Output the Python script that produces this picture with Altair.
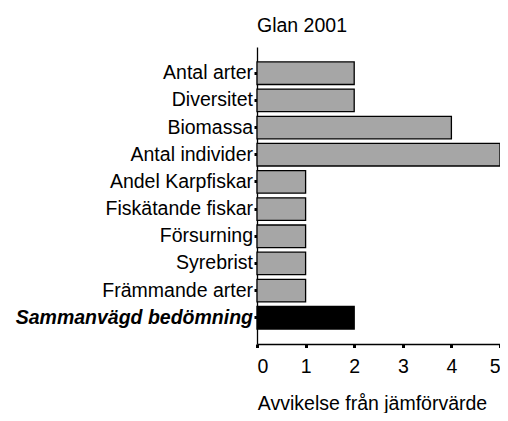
import altair as alt
import pandas as pd

categories = ["Antal arter", "Diversitet", "Biomassa", "Antal individer",
              "Andel Karpfiskar", "Fiskätande fiskar", "Försurning",
              "Syrebrist", "Främmande arter", "Sammanvägd bedömning"]
values = [2, 2, 4, 5, 1, 1, 1, 1, 1, 2]
kind = ["del"] * 9 + ["total"]

df = pd.DataFrame({"cat": categories, "val": values, "kind": kind})

FONT = "Liberation Sans"
FS = 19.5

bars = alt.Chart(df).mark_bar(stroke="black", strokeWidth=1.3).encode(
    y=alt.Y("cat:N", sort=categories,
            scale=alt.Scale(paddingInner=0.17, paddingOuter=0.55),
            axis=alt.Axis(title=None, tickSize=3, tickWidth=3, tickColor="black",
                          domainColor="black", domainWidth=1.3,
                          labelPadding=1.5, labelColor="black", labelFont=FONT,
                          labelFontSize=FS, labelLimit=400,
                          labelFontWeight={"condition": {"test": "datum.value == 'Sammanvägd bedömning'", "value": "bold"}, "value": "normal"},
                          labelFontStyle={"condition": {"test": "datum.value == 'Sammanvägd bedömning'", "value": "italic"}, "value": "normal"})),
    x=alt.X("val:Q", scale=alt.Scale(domain=[0, 5], nice=False),
            axis=alt.Axis(title="Avvikelse från jämförvärde", values=[0, 1, 2, 3, 4, 5],
                          format="d", grid=False, tickSize=3.5, tickWidth=3,
                          tickColor="black", domainColor="black", domainWidth=1.3,
                          labelColor="black", labelFont=FONT, labelFontSize=FS,
                          labelPadding=10,
                          titleFont=FONT, titleFontSize=FS, titleFontWeight="normal",
                          titleColor="black", titleAlign="center", titleBaseline="alphabetic",
                          titleX=115, titleY=65)),
    color=alt.Color("kind:N", scale=alt.Scale(domain=["del", "total"],
                                              range=["#a6a6a6", "#000000"]),
                    legend=None),
)

chart = bars.properties(
    width=243, height=297,
    title=alt.TitleParams("Glan 2001", anchor="start", frame="group", font=FONT,
                          fontSize=FS, fontWeight="normal", color="black",
                          baseline="alphabetic", offset=0, dy=4),
    autosize=alt.AutoSizeParams(type="none"),
    padding={"left": 249, "top": 39, "right": 0, "bottom": 69},
).configure_view(stroke=None).configure_axis(grid=False)

chart.save("out.html", embed_options={"renderer": "svg", "actions": False})
